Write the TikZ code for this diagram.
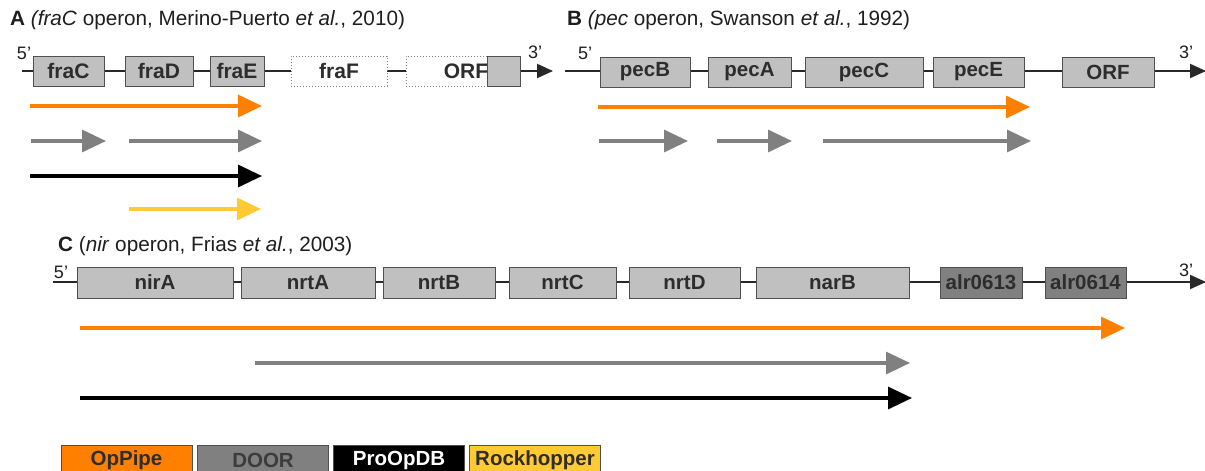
\documentclass[tikz,border=0pt]{standalone}
\usepackage{fontspec}
\setmainfont{Liberation Sans}
\usetikzlibrary{arrows.meta}

\definecolor{genefill}{RGB}{192,192,192}
\definecolor{genedark}{RGB}{128,128,128}
\definecolor{boxline}{RGB}{80,80,80}
\definecolor{genetext}{RGB}{45,45,45}
\definecolor{backbone}{RGB}{40,40,40}
\definecolor{oppipe}{RGB}{255,128,0}
\definecolor{door}{RGB}{128,128,128}
\definecolor{rockhopper}{RGB}{255,202,51}
\definecolor{titletext}{RGB}{30,30,30}
\definecolor{doortext}{RGB}{60,60,60}

\newcommand{\prm}{\symbol{"27}}

\tikzset{
  gene/.style={draw=boxline, fill=genefill, line width=1pt, inner sep=0pt,
    minimum height=30pt, text=genetext, font=\fontsize{20.5}{20.5}\selectfont\bfseries},
  genebig/.style={gene, font=\fontsize{21}{21}\selectfont\bfseries},
  darkgene/.style={gene, fill=genedark},
  ghostgene/.style={genebig, fill=white, draw=gray, dotted, line width=0.9pt},
  dna/.style={draw=backbone, line width=2pt, -{Triangle[length=16pt,width=14pt]}},
  endlabel/.style={inner sep=0pt, text=titletext, font=\fontsize{18}{18}\selectfont},
  paneltitle/.style={inner sep=0pt, anchor=west, text=titletext, font=\fontsize{20.7}{20.7}\selectfont},
  flow/.style={line width=3.3pt, -{Triangle[length=24pt,width=22pt]}},
  legendbox/.style={draw=boxline, line width=1pt, inner sep=0pt, minimum width=131pt,
    minimum height=30pt, font=\fontsize{20.5}{20.5}\selectfont\bfseries}
}

\begin{document}
\begin{tikzpicture}[x=1pt,y=-1pt]
\useasboundingbox (0,0) rectangle (1205,471);
\clip (0,0) rectangle (1205,471);

% ---------------- Panel A: fraC operon ----------------
\node[paneltitle] (titleA) at (10,20) {\textbf{A} \textit{(fraC} operon, Merino-Puerto \textit{et al.}, 2010)};
\coordinate (a5) at (22,71);
\coordinate (a3) at (553,71);
\draw[dna] (a5) -- (a3);
\node[endlabel] (a5lab) at (24,53) {5\prm};
\node[endlabel] (a3lab) at (535,52) {3\prm};
\node[genebig, minimum width=71pt] (fraC) at (68.5,71) {fraC};
\node[genebig, minimum width=68pt] (fraD) at (159,71) {fraD};
\node[genebig, minimum width=54pt] (fraE) at (237,71) {fraE};
\node[ghostgene, minimum width=96pt] (fraF) at (339,71) {fraF};
\node[ghostgene, minimum width=114pt] (orfA) at (463,71) {};
\node[inner sep=0pt, text=genetext, font=\fontsize{21}{21}\selectfont\bfseries] (orfAlab) at (466,71) {ORF};
\node[genebig, minimum width=33pt] (orfAtail) at (503.5,71) {};

% predicted transcription units, panel A
\coordinate (ao1s) at (30,106);  \coordinate (ao1e) at (262,106);
\coordinate (ag1s) at (31,141);  \coordinate (ag1e) at (106,141);
\coordinate (ag2s) at (129,141); \coordinate (ag2e) at (262,141);
\coordinate (ab1s) at (30,176);  \coordinate (ab1e) at (262,176);
\coordinate (ay1s) at (129,209); \coordinate (ay1e) at (261,209);
\draw[flow, draw=oppipe, fill=oppipe] (ao1s) -- (ao1e);
\draw[flow, draw=door, fill=door] (ag1s) -- (ag1e);
\draw[flow, draw=door, fill=door] (ag2s) -- (ag2e);
\draw[flow, draw=black, fill=black] (ab1s) -- (ab1e);
\draw[flow, draw=rockhopper, fill=rockhopper] (ay1s) -- (ay1e);

% ---------------- Panel B: pec operon ----------------
\node[paneltitle] (titleB) at (567,20) {\textbf{B} \textit{(pec} operon, Swanson \textit{et al.}, 1992)};
\coordinate (b5) at (565,71);
\coordinate (b3) at (1206,71);
\draw[dna] (b5) -- (b3);
\node[endlabel] (b5lab) at (585,53) {5\prm};
\node[endlabel] (b3lab) at (1186,52) {3\prm};
\node[gene, minimum width=90pt] (pecB) at (645,72) {pecB};
\node[gene, minimum width=83pt] (pecA) at (749.5,72) {pecA};
\node[gene, minimum width=118pt] (pecC) at (864,72) {pecC};
\node[gene, minimum width=91pt] (pecE) at (978.5,72) {pecE};
\node[gene, minimum width=92pt] (orfB) at (1108,72) {ORF};

% predicted transcription units, panel B
\coordinate (bo1s) at (598,107);  \coordinate (bo1e) at (1030,107);
\coordinate (bg1s) at (599,141);  \coordinate (bg1e) at (688,141);
\coordinate (bg2s) at (717,141);  \coordinate (bg2e) at (792,141);
\coordinate (bg3s) at (823,141);  \coordinate (bg3e) at (1031,141);
\draw[flow, draw=oppipe, fill=oppipe] (bo1s) -- (bo1e);
\draw[flow, draw=door, fill=door] (bg1s) -- (bg1e);
\draw[flow, draw=door, fill=door] (bg2s) -- (bg2e);
\draw[flow, draw=door, fill=door] (bg3s) -- (bg3e);

% ---------------- Panel C: nir operon ----------------
\node[paneltitle] (titleC) at (58,246) {\textbf{C} (\textit{nir} operon, Frias \textit{et al.}, 2003)};
\coordinate (c5) at (53,282);
\coordinate (c3) at (1206,282);
\draw[dna] (c5) -- (c3);
\node[endlabel] (c5lab) at (61,272) {5\prm};
\node[endlabel] (c3lab) at (1186,270) {3\prm};
\node[gene, minimum width=156pt, minimum height=31pt] (nirA) at (155,282.5) {nirA};
\node[gene, minimum width=134pt, minimum height=31pt] (nrtA) at (308,282.5) {nrtA};
\node[gene, minimum width=112pt, minimum height=31pt] (nrtB) at (439,282.5) {nrtB};
\node[gene, minimum width=107pt, minimum height=31pt] (nrtC) at (562.5,282.5) {nrtC};
\node[gene, minimum width=111pt, minimum height=31pt] (nrtD) at (684.5,282.5) {nrtD};
\node[gene, minimum width=153pt, minimum height=31pt] (narB) at (832.5,282.5) {narB};
\node[darkgene, minimum width=82pt, minimum height=31pt] (alr0613) at (981,282.5) {alr0613};
\node[darkgene, minimum width=81pt, minimum height=31pt] (alr0614) at (1085.5,282.5) {alr0614};

% predicted transcription units, panel C
\coordinate (co1s) at (80,328);  \coordinate (co1e) at (1125,328);
\coordinate (cg1s) at (255,363); \coordinate (cg1e) at (910,363);
\coordinate (cb1s) at (80,398);  \coordinate (cb1e) at (912,398);
\draw[flow, draw=oppipe, fill=oppipe] (co1s) -- (co1e);
\draw[flow, draw=door, fill=door] (cg1s) -- (cg1e);
\draw[flow, draw=black, fill=black] (cb1s) -- (cb1e);

% ---------------- Legend ----------------
\node[legendbox, fill=oppipe, text=genetext] (legOpPipe) at (126.5,460) {OpPipe};
\node[legendbox, fill=door, text=doortext] (legDOOR) at (263,460) {DOOR};
\node[legendbox, fill=black, text=white] (legProOpDB) at (399,460) {ProOpDB};
\node[legendbox, fill=rockhopper, text=genetext] (legRock) at (535,460) {Rockhopper};
\end{tikzpicture}
\end{document}
